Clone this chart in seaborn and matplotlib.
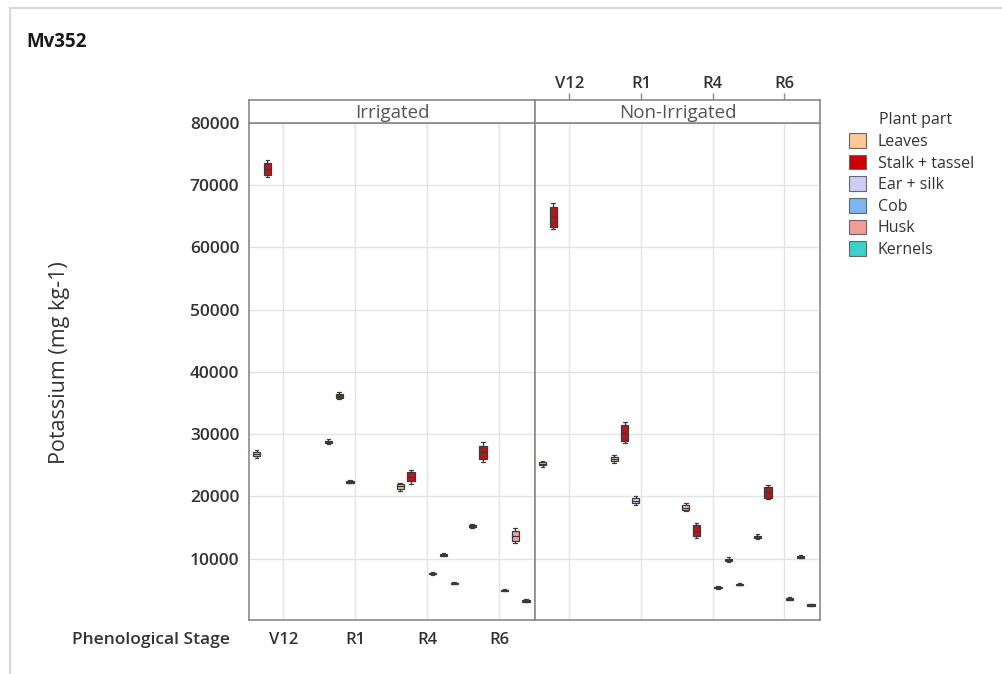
import numpy as np
import pandas as pd
import matplotlib
matplotlib.use("Agg")
import matplotlib.pyplot as plt
from matplotlib.patches import Patch
from matplotlib.lines import Line2D
import seaborn as sns

# ---- data: potassium concentration (mg kg-1), four replicates per stage ----
stages = ["V12", "R1", "R4", "R6"]
parts = ["Leaves", "Stalk + tassel", "Ear + silk", "Cob", "Husk", "Kernels"]
treatments = ["Irrigated", "Non-Irrigated"]

# Irrigated
irr_leaves = [[26100, 26600, 27000, 27400], [28400, 28700, 28900, 29200],
              [20900, 21400, 22000, 22200], [14900, 15100, 15300, 15500]]
irr_stalk = [[71300, 71800, 73500, 74100], [35600, 35900, 36400, 36800],
             [22000, 22600, 23700, 24300], [25600, 26200, 28000, 28700]]
irr_ear = [None, [22100, 22200, 22400, 22600], None, None]
irr_cob = [None, None, [7400, 7500, 7700, 7900], [4800, 4900, 5000, 5200]]
irr_husk = [None, None, [10400, 10500, 10700, 10900], [12600, 13000, 14300, 14900]]
irr_kernels = [None, None, [5900, 6000, 6100, 6300], [3000, 3100, 3300, 3500]]

# Non-Irrigated
non_leaves = [[24800, 25100, 25400, 25700], [25400, 25800, 26300, 26700],
              [17600, 17900, 18500, 18900], [13100, 13300, 13600, 13900]]
non_stalk = [[62900, 63500, 66300, 67200], [28600, 29100, 31300, 31900],
             [13300, 13800, 15200, 15800], [19600, 19900, 21400, 21800]]
non_ear = [None, [18600, 19000, 19600, 20000], None, None]
non_cob = [None, None, [5200, 5300, 5500, 5600], [3300, 3400, 3600, 3800]]
non_husk = [None, None, [9500, 9700, 9900, 10200], [10100, 10200, 10400, 10600]]
non_kernels = [None, None, [5700, 5800, 5900, 6100], [2400, 2500, 2700, 2800]]

part_colors = ["#FDCA8F", "#CC0000", "#CFCBF7", "#7FB5F2", "#F29C98", "#3CCFCB"]

series = {
    "Irrigated": [irr_leaves, irr_stalk, irr_ear, irr_cob, irr_husk, irr_kernels],
    "Non-Irrigated": [non_leaves, non_stalk, non_ear, non_cob, non_husk, non_kernels],
}

rows = []
for trt, per_part in series.items():
    for part, per_stage in zip(parts, per_part):
        for stage, reps in zip(stages, per_stage):
            if reps is None:
                continue
            for v in reps:
                rows.append({"Treatment": trt, "Stage": stage, "Part": part, "K": v})
df = pd.DataFrame(rows)

# ---- figure ----
sns.set_style("white")
plt.rcParams["font.family"] = ["Open Sans", "DejaVu Sans"]

W, H = 1002, 674
fig = plt.figure(figsize=(W / 100, H / 100), dpi=100)

def fx(px):
    return px / W

def fy(py):
    return 1 - py / H

panel_left = [249, 535]
panel_right = [535, 820]
top_px, bottom_px, strip_top = 123, 620, 100
spine_col = "#8a8a8a"
text_col = "#333333"
xlim = (-0.48, 3.5)
ylim = (150, 80000)

axes = []
for i, trt in enumerate(treatments):
    l, r = panel_left[i], panel_right[i]
    ax = fig.add_axes([fx(l), fy(bottom_px), fx(r - l), fy(top_px) - fy(bottom_px)])
    sub = df[df["Treatment"] == trt]
    sns.boxplot(data=sub, x="Stage", y="K", hue="Part", order=stages,
                hue_order=parts, palette=part_colors, width=0.9, gap=0.33,
                dodge=True, linewidth=0.9, linecolor="#3a3a3a", whis=np.inf,
                fliersize=0, legend=False, ax=ax)
    ax.set_xlim(*xlim)
    ax.set_ylim(*ylim)
    ax.set_yticks(np.arange(10000, 80001, 10000))
    ax.set_xticks(range(len(stages)))
    ax.grid(True, color="#e3e3e3", linewidth=1)
    ax.set_axisbelow(True)
    ax.set_xlabel("")
    ax.set_ylabel("")
    for s in ax.spines.values():
        s.set_color(spine_col)
        s.set_linewidth(1.2)
    ax.tick_params(axis="both", colors=spine_col, labelcolor=text_col,
                   length=5, width=1)
    if i == 0:
        ax.set_xticklabels(stages, fontsize=12, fontweight="semibold")
        ax.set_yticks(np.arange(10000, 80001, 10000))
        ax.set_yticklabels([f"{v}" for v in range(10000, 80001, 10000)],
                           fontsize=12.5, fontweight="semibold")
        ax.tick_params(axis="x", pad=4)
        ax.tick_params(axis="y", pad=2)
    else:
        ax.tick_params(axis="both", length=0, labelbottom=False, labelleft=False)
    axes.append(ax)

    # strip header
    sax = fig.add_axes([fx(l), fy(top_px), fx(r - l), fy(strip_top) - fy(top_px)])
    sax.set_xlim(*xlim)
    sax.set_ylim(0, 1)
    sax.set_facecolor("white")
    for s in sax.spines.values():
        s.set_color(spine_col)
        s.set_linewidth(1.2)
    sax.set_yticks([])
    sax.text(0.5, 0.45, trt, transform=sax.transAxes, ha="center", va="center",
             fontsize=13.5, color="#555555")
    if i == 1:
        sax.set_xticks(range(len(stages)))
        sax.xaxis.tick_top()
        sax.set_xticklabels(stages, fontsize=12, fontweight="semibold", color=text_col)
        sax.tick_params(axis="x", colors=spine_col, labelcolor=text_col,
                        length=5, width=1, pad=1)
    else:
        sax.set_xticks([])

# titles and axis labels
fig.text(fx(26), fy(42), "Mv352", fontsize=13.5, fontweight="bold",
         color="#1a1a1a", ha="left", va="center")
fig.text(fx(60), fy(363), "Potassium (mg kg-1)", rotation=90, fontsize=15.5,
         color=text_col, ha="center", va="center")
fig.text(fx(72), fy(640), "Phenological Stage", fontsize=12.5,
         fontweight="semibold", color=text_col, ha="left", va="center")

# legend
fig.text(fx(879), fy(120), "Plant part", fontsize=11.5, color=text_col,
         ha="left", va="center")
handles = [Patch(facecolor=c, edgecolor="#666666", linewidth=0.8) for c in part_colors]
fig.legend(handles, parts, loc="upper left", bbox_to_anchor=(fx(849), fy(133)),
           frameon=False, fontsize=11.5, handlelength=1.05, handleheight=1.05,
           handletextpad=0.75, labelspacing=0.3, borderpad=0, borderaxespad=0,
           labelcolor=text_col)

# light outer frame (top and left edges)
fig.add_artist(Line2D([fx(10), 1], [fy(8), fy(8)], transform=fig.transFigure,
                      color="#d6d6d6", linewidth=1.5))
fig.add_artist(Line2D([fx(10), fx(10)], [0, fy(8)], transform=fig.transFigure,
                      color="#d6d6d6", linewidth=1.5))

fig.savefig("out.png", dpi=100, facecolor="white")
